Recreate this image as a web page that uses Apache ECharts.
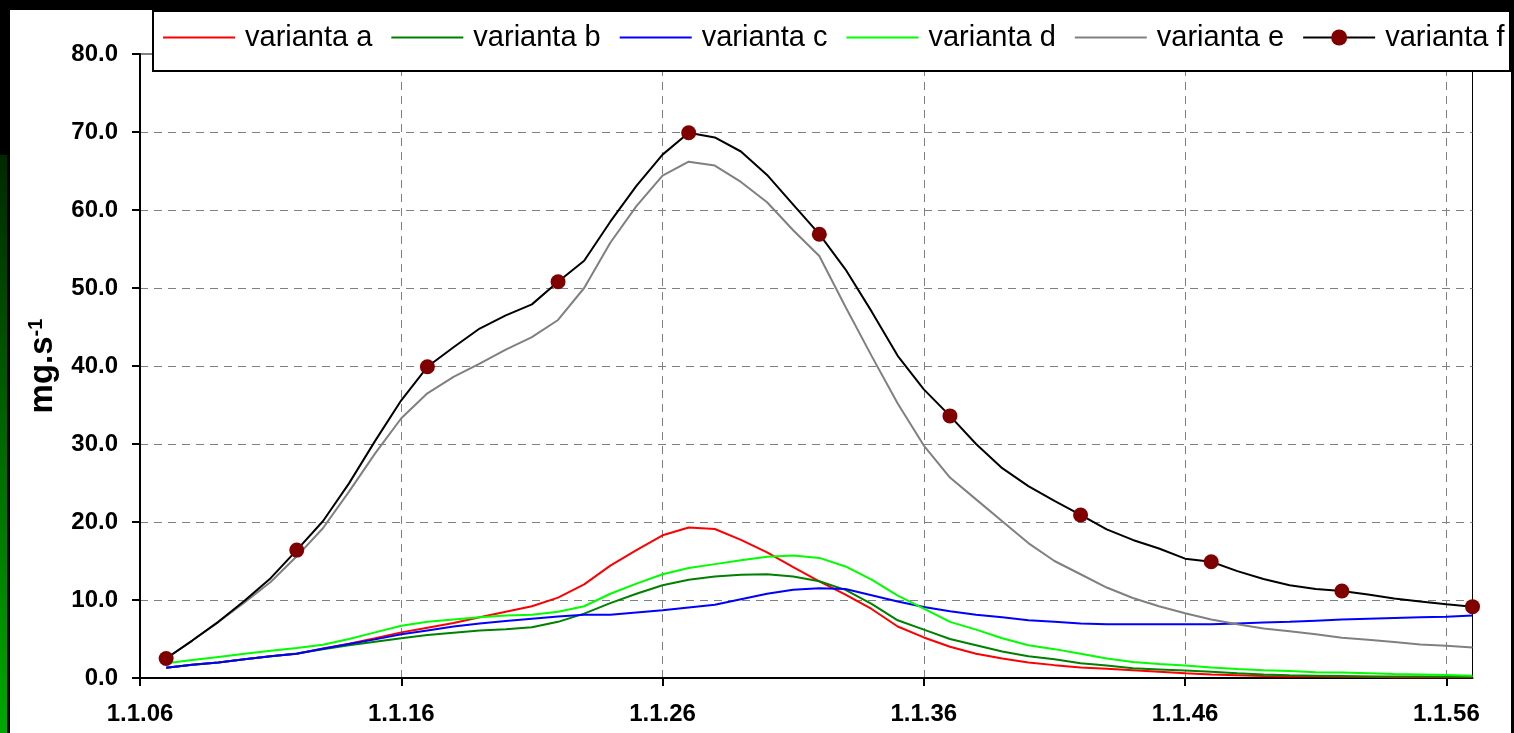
<!DOCTYPE html>
<html>
<head>
<meta charset="utf-8">
<title>varianta a - f</title>
<script src="https://cdn.jsdelivr.net/npm/echarts@6/dist/echarts.min.js"></script>
<style>
  html, body { margin: 0; padding: 0; background: #fff; }
  #chart { width: 1514px; height: 733px; }
</style>
</head>
<body>
<div id="chart"></div>
<script>
var FIRST_DAY = 6;
var LAST_DAY = 57;
var MARKER_STEP = 5;

// x categories 1.1.06 ... 1.1.57, the first one has no data
var categories = [];
for (var d = FIRST_DAY; d <= LAST_DAY; d++) {
  categories.push('1.1.' + (d < 10 ? '0' : '') + d);
}

var variantA = [null,
  1.3, 1.7, 2.0, 2.4, 2.8, 3.1, 3.8, 4.4, 5.1, 5.85,
  6.45, 7.05, 7.8, 8.5, 9.2, 10.3, 12.0, 14.4, 16.4, 18.3,
  19.3, 19.1, 17.7, 16.1, 14.2, 12.4, 10.7, 8.85, 6.6, 5.2,
  4.0, 3.1, 2.5, 2.0, 1.65, 1.35, 1.2, 1.0, 0.8, 0.6,
  0.45, 0.35, 0.25, 0.2, 0.2, 0.15, 0.15, 0.1, 0.1, 0.1, 0.1];
var variantB = [null,
  1.3, 1.7, 2.0, 2.4, 2.8, 3.15, 3.7, 4.2, 4.65, 5.1,
  5.5, 5.8, 6.1, 6.25, 6.5, 7.2, 8.25, 9.6, 10.8, 11.9,
  12.6, 13.0, 13.25, 13.3, 13.0, 12.4, 11.3, 9.5, 7.4, 6.2,
  5.0, 4.2, 3.4, 2.8, 2.4, 1.9, 1.6, 1.25, 1.1, 0.95,
  0.8, 0.6, 0.45, 0.35, 0.3, 0.25, 0.2, 0.2, 0.2, 0.15, 0.15];
var variantC = [null,
  1.3, 1.7, 2.0, 2.4, 2.8, 3.1, 3.75, 4.35, 4.95, 5.6,
  6.1, 6.6, 7.0, 7.3, 7.6, 7.9, 8.1, 8.1, 8.4, 8.7,
  9.05, 9.4, 10.1, 10.8, 11.3, 11.5, 11.4, 10.6, 9.8, 9.1,
  8.55, 8.1, 7.8, 7.4, 7.2, 7.0, 6.9, 6.9, 6.9, 6.9,
  6.9, 7.0, 7.1, 7.2, 7.35, 7.5, 7.6, 7.7, 7.8, 7.85, 8.0];
var variantD = [null,
  1.9, 2.3, 2.7, 3.1, 3.5, 3.85, 4.25, 5.0, 5.85, 6.7,
  7.2, 7.5, 7.8, 8.0, 8.1, 8.5, 9.2, 10.8, 12.1, 13.3,
  14.1, 14.6, 15.1, 15.55, 15.7, 15.4, 14.3, 12.6, 10.55, 8.9,
  7.2, 6.2, 5.1, 4.2, 3.7, 3.1, 2.5, 2.05, 1.8, 1.6,
  1.35, 1.15, 1.0, 0.9, 0.75, 0.7, 0.6, 0.5, 0.45, 0.4, 0.3];
var variantE = [null,
  2.5, 4.8, 7.2, 9.7, 12.3, 15.6, 19.2, 23.9, 28.8, 33.3,
  36.5, 38.6, 40.3, 42.1, 43.7, 45.9, 50.0, 55.8, 60.5, 64.4,
  66.2, 65.7, 63.6, 61.0, 57.4, 54.1, 47.6, 41.3, 35.2, 29.8,
  25.7, 22.9, 20.1, 17.3, 15.0, 13.3, 11.6, 10.25, 9.2, 8.3,
  7.5, 6.9, 6.35, 6.0, 5.6, 5.15, 4.9, 4.6, 4.3, 4.15, 3.9];
var variantF = [null,
  2.5, 4.8, 7.2, 9.9, 12.8, 16.4, 20.1, 24.95, 30.4, 35.6,
  39.9, 42.4, 44.8, 46.5, 47.9, 50.8, 53.5, 58.5, 63.1, 67.1,
  69.9, 69.3, 67.5, 64.5, 60.7, 56.9, 52.4, 47.0, 41.3, 37.0,
  33.6, 30.0, 26.9, 24.6, 22.7, 20.9, 19.05, 17.7, 16.6, 15.3,
  14.9, 13.7, 12.7, 11.9, 11.4, 11.15, 10.7, 10.2, 9.8, 9.45, 9.15];

var seriesNames = ['varianta a', 'varianta b', 'varianta c', 'varianta d', 'varianta e', 'varianta f'];
var seriesColors = ['#ff0000', '#008000', '#0000ff', '#00ff00', '#808080', '#000000'];
var seriesData = [variantA, variantB, variantC, variantD, variantE, variantF];

var FONT = 'Liberation Sans, Arial, sans-serif';

var chart = echarts.init(document.getElementById('chart'));

function lineSeries(i){
  return {
    name: seriesNames[i],
    type: 'line',
    data: seriesData[i],
    symbol: 'none',
    z: 2 + i * 0.01,
    lineStyle: {color: seriesColors[i], width: 2},
    itemStyle: {color: seriesColors[i]},
    emphasis: {disabled: true}
  }
}

function buildSeries(){
  var list = [];
  for (var i = 0; i < 5; i++) {
    list.push(lineSeries(i));
  }
  // variant f: black line, maroon marker every 5th day
  list.push({
    name: seriesNames[5],
    type: 'line',
    data: seriesData[5],
    symbol: 'circle',
    showAllSymbol: true,
    symbolSize: function(val, params){
      return (params.dataIndex - 1) % MARKER_STEP === 0 ? 15 : 0
    },
    z: 3,
    lineStyle: {color: '#000', width: 2},
    itemStyle: {color: '#800000'},
    emphasis: {disabled: true}
  });
  return list
}

var legendData = seriesNames.map(function(name, i){
  return i < 5 ? {name: name, itemStyle: {opacity: 0}} : {name: name}
});

var option = {
  animation: false,
  backgroundColor: '#fff',
  textStyle: {fontFamily: FONT},
  graphic: [
    {type: 'rect', shape: {x: 0, y: 0, width: 1514, height: 10}, style: {fill: '#000'}, silent: true},
    {type: 'rect', shape: {x: 0, y: 0, width: 10, height: 733}, style: {fill: '#000'}, silent: true},
    {type: 'rect', shape: {x: 1511, y: 0, width: 3, height: 733}, style: {fill: '#000'}, silent: true},
    {
      type: 'rect', shape: {x: 0, y: 155, width: 7, height: 578}, silent: true,
      style: {
        fill: new echarts.graphic.LinearGradient(0, 0, 0, 1, [
          {offset: 0, color: '#002800'},
          {offset: 1, color: '#00a800'}
        ])
      }
    },
    {
      type: 'rect', z: 3, silent: true,
      shape: {x: 153, y: 11, width: 1357, height: 60},
      style: {fill: '#fff', stroke: '#000', lineWidth: 2}
    },
    {
      type: 'text', x: 43, y: 366, rotation: Math.PI / 2, silent: true,
      style: {
        text: '{m|mg.s}{s|-1}',
        align: 'center',
        verticalAlign: 'middle',
        rich: {
          m: {fontSize: 33, fontWeight: 'bold', fontFamily: FONT, fill: '#000'},
          s: {fontSize: 20, fontWeight: 'bold', fontFamily: FONT, fill: '#000', verticalAlign: 'top'}
        }
      }
    }
  ],
  legend: {
    left: 162,
    top: 23,
    padding: 0,
    z: 4,
    itemWidth: 72,
    itemHeight: 20,
    itemGap: 18,
    selectedMode: false,
    textStyle: {fontSize: 29, fontFamily: FONT, color: '#000', padding: [0, 0, 0, 5]},
    data: legendData
  },
  grid: {
    left: 140,
    right: 41.5,
    top: 54,
    bottom: 55,
    show: true,
    backgroundColor: '#fff',
    borderColor: '#000',
    borderWidth: 1
  },
  xAxis: {
    type: 'category',
    data: categories,
    boundaryGap: false,
    axisLine: {lineStyle: {color: '#000', width: 2}},
    axisTick: {interval: 9, length: 8, lineStyle: {color: '#000', width: 2}},
    axisLabel: {
      interval: 9,
      margin: 24,
      fontSize: 24,
      fontWeight: 'bold',
      fontFamily: FONT,
      color: '#000'
    },
    splitLine: {
      show: true,
      interval: 9,
      lineStyle: {color: '#808080', width: 1, type: [8, 6]}
    }
  },
  yAxis: {
    type: 'value',
    min: 0,
    max: 80,
    interval: 10,
    axisLine: {show: true, lineStyle: {color: '#000', width: 2}},
    axisTick: {show: true, length: 8, lineStyle: {color: '#000', width: 2}},
    axisLabel: {
      margin: 22,
      fontSize: 24,
      fontWeight: 'bold',
      fontFamily: FONT,
      color: '#000',
      formatter: function(v){
        return v.toFixed(1)
      }
    },
    splitLine: {lineStyle: {color: '#808080', width: 1, type: [8, 6]}}
  },
  series: buildSeries()
};

chart.setOption(option);
</script>
</body>
</html>
